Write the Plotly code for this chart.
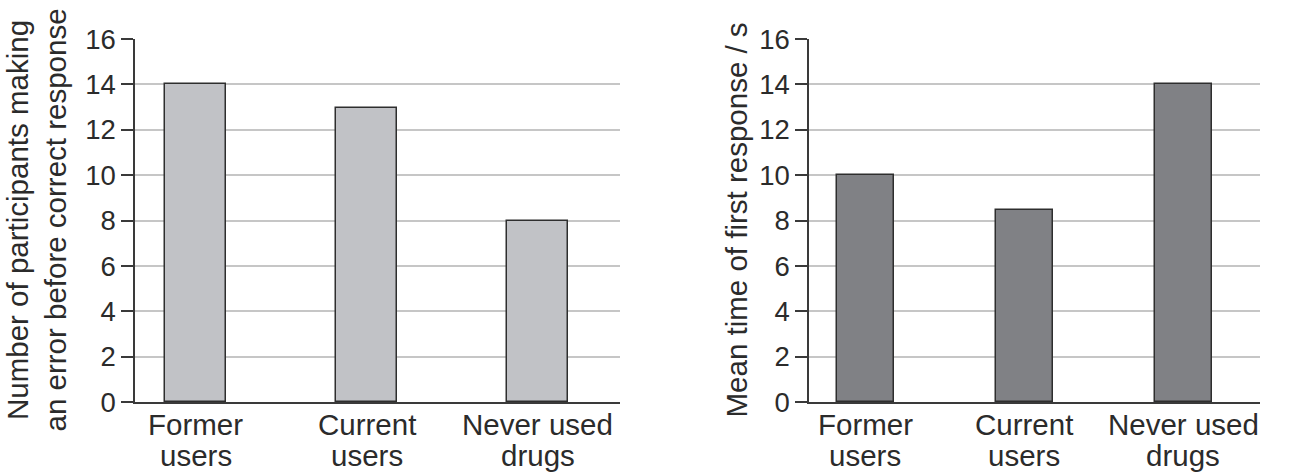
import plotly.graph_objects as go

categories = ["Former<br>users", "Current<br>users", "Never used<br>drugs"]
errors_count = [14, 12.95, 8]
mean_time = [10, 8.45, 14]
y_ticks = [0, 2, 4, 6, 8, 10, 12, 14, 16]

left_title = "Number of participants making<br>an error before correct response"
right_title = "Mean time of first response / s"

FONT = "Arial, Liberation Sans, sans-serif"
TXT = "#2b2b2b"
W, H = 1303, 475
TOP, BOT = 39, 402  # plot area pixel rows

fig = go.Figure()
fig.add_trace(go.Bar(x=categories, y=errors_count, width=0.357,
                     marker=dict(color="#c1c2c6", line=dict(color="#2e2e2e", width=1.5)),
                     xaxis="x", yaxis="y", showlegend=False, hoverinfo="y"))
fig.add_trace(go.Bar(x=categories, y=mean_time, width=0.357,
                     marker=dict(color="#808185", line=dict(color="#2e2e2e", width=1.5)),
                     xaxis="x2", yaxis="y2", showlegend=False, hoverinfo="y"))

xcommon = dict(type="category", range=[-0.354, 2.482], showline=True, linecolor="#3a3a3a",
               linewidth=1.5, ticks="", showgrid=False, zeroline=False, showticklabels=False,
               automargin=False, fixedrange=True)
ycommon = dict(range=[0, 16], tickvals=y_ticks, showline=True, linecolor="#3a3a3a",
               linewidth=1.5, ticks="outside", ticklen=12, tickwidth=1.5, tickcolor="#3a3a3a",
               showgrid=True, gridcolor="#c6c6c6", gridwidth=1.5, zeroline=False,
               automargin=False,
               tickfont=dict(family=FONT, size=27.5, color=TXT), fixedrange=True)

fig.update_layout(
    width=W, height=H,
    margin=dict(l=0, r=0, t=TOP, b=H - BOT),
    paper_bgcolor="white", plot_bgcolor="white",
    font=dict(family=FONT, color=TXT),
    xaxis=dict(domain=[135 / W, 620 / W], anchor="y", **xcommon),
    yaxis=dict(domain=[0, 1], anchor="x", **ycommon),
    xaxis2=dict(domain=[809 / W, 1260 / W], anchor="y2", **xcommon),
    yaxis2=dict(domain=[0, 1], anchor="x2", **ycommon),
    bargap=0,
)

# category labels (two lines, tighter spacing like the reference)
def py(p):
    return (BOT - p) / (BOT - TOP)

for xa in ["x", "x2"]:
    for c in categories:
        l1, l2 = c.split("<br>")
        for txt, ypix in [(l1, 424), (l2, 455)]:
            fig.add_annotation(text=txt, xref=xa, yref="paper", x=c, y=py(ypix),
                               xanchor="center", yanchor="middle", showarrow=False,
                               font=dict(family=FONT, size=29.5, color=TXT))

fig.add_annotation(text=left_title, xref="paper", yref="paper", x=36 / W, y=0.5,
                   xanchor="center", yanchor="middle", textangle=-90, showarrow=False,
                   font=dict(family=FONT, size=29.5, color=TXT))
fig.add_annotation(text=right_title, xref="paper", yref="paper", x=736 / W, y=0.5,
                   xanchor="center", yanchor="middle", textangle=-90, showarrow=False,
                   font=dict(family=FONT, size=29.5, color=TXT))

fig.write_html("out.html", config={"displayModeBar": False},
               post_script="document.body.style.margin='0';document.body.style.overflow='hidden';")
